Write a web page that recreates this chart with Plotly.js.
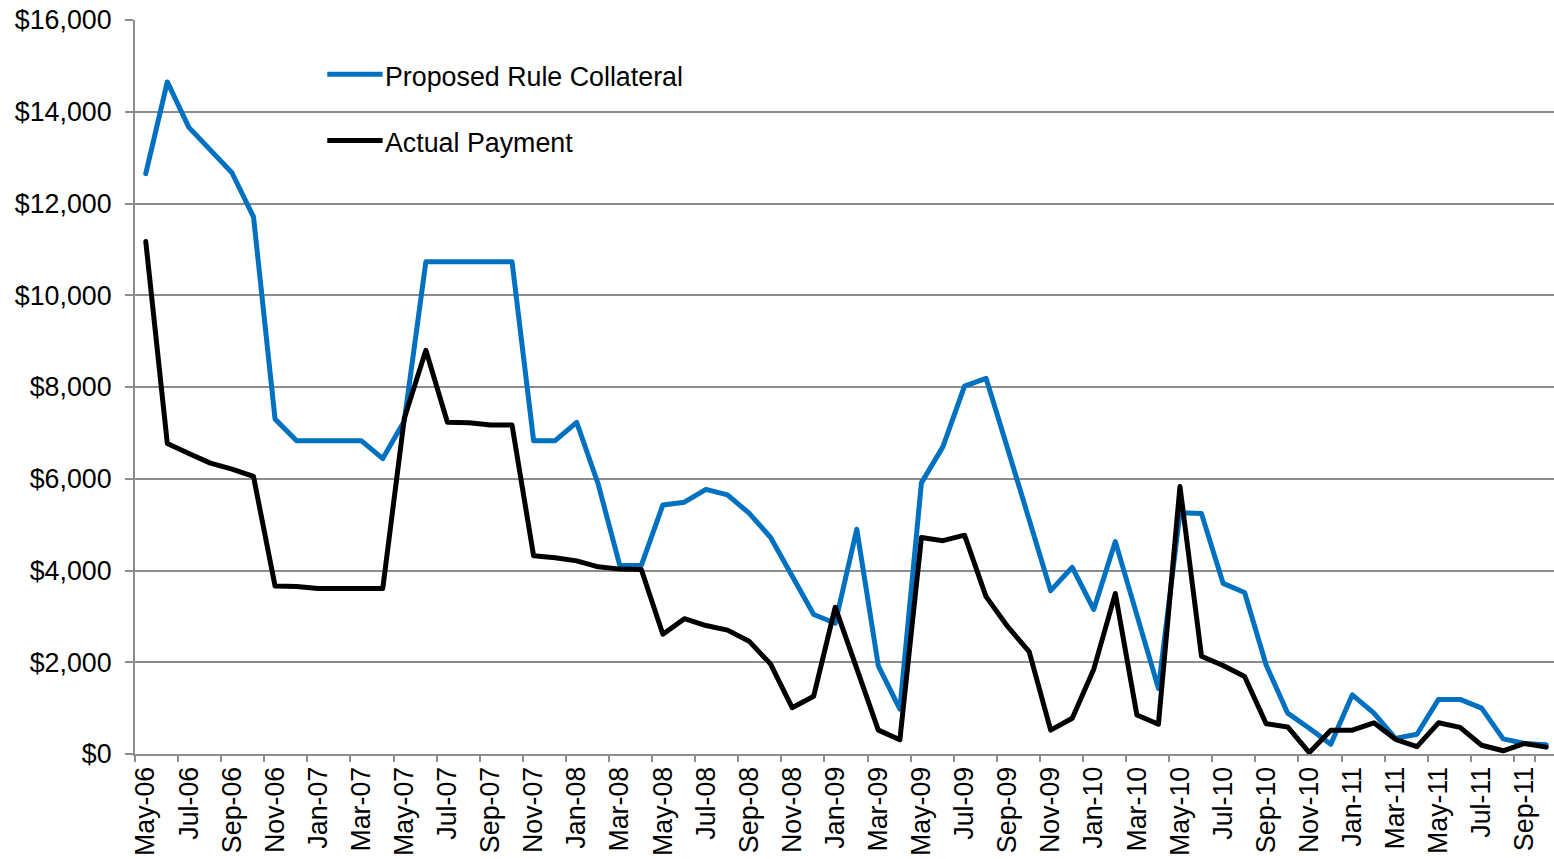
<!DOCTYPE html>
<html>
<head>
<meta charset="utf-8">
<script src="https://cdn.plot.ly/plotly-3.0.1.min.js"></script>
<style>
html,body{margin:0;padding:0;background:#fff;}
.scatterlayer path.js-line{stroke-linejoin:round;stroke-linecap:round;}
</style>
</head>
<body>
<div id="chart" style="width:1554px;height:859px;"></div>
<script>
const months = [
  "May-06","Jun-06","Jul-06","Aug-06","Sep-06","Oct-06","Nov-06","Dec-06",
  "Jan-07","Feb-07","Mar-07","Apr-07","May-07","Jun-07","Jul-07","Aug-07","Sep-07","Oct-07","Nov-07","Dec-07",
  "Jan-08","Feb-08","Mar-08","Apr-08","May-08","Jun-08","Jul-08","Aug-08","Sep-08","Oct-08","Nov-08","Dec-08",
  "Jan-09","Feb-09","Mar-09","Apr-09","May-09","Jun-09","Jul-09","Aug-09","Sep-09","Oct-09","Nov-09","Dec-09",
  "Jan-10","Feb-10","Mar-10","Apr-10","May-10","Jun-10","Jul-10","Aug-10","Sep-10","Oct-10","Nov-10","Dec-10",
  "Jan-11","Feb-11","Mar-11","Apr-11","May-11","Jun-11","Jul-11","Aug-11","Sep-11","Oct-11"
];

const proposedRuleCollateral = [
  12650, 14650, 13660, 13170, 12670, 11710,
  7300, 6830, 6830, 6830, 6830, 6440,
  7260, 10730, 10730, 10730, 10730, 10730,
  6830, 6830, 7230, 5880, 4110, 4110,
  5430, 5490, 5770, 5650, 5250, 4720,
  3880, 3040, 2850, 4900, 1920, 980,
  5910, 6700, 8020, 8190, 6660, 5140,
  3560, 4070, 3150, 4630, 3030, 1430,
  5260, 5240, 3720, 3520, 1940, 890,
  560, 210, 1290, 890, 340, 430,
  1190, 1190, 1000, 330, 230, 200
];

const actualPayment = [
  11170, 6770, 6550, 6340, 6210, 6050,
  3660, 3650, 3610, 3610, 3610, 3610,
  7320, 8800, 7230, 7220, 7170, 7170,
  4320, 4280, 4210, 4080, 4030, 4020,
  2610, 2950, 2800, 2700, 2460, 1960,
  1010, 1260, 3200, 1900, 520, 310,
  4720, 4650, 4770, 3430, 2780, 2230,
  520, 780, 1850, 3500, 850, 650,
  5830, 2130, 1930, 1690, 660, 590,
  30, 520, 520, 680, 320, 160,
  680, 580, 190, 70, 230, 150
];

const seriesNames = ["Proposed Rule Collateral", "Actual Payment"];
const seriesColors = ["#0070C0", "#000000"];
const tickLabels = months.filter((m, i) => i % 2 === 0);

const FONT = "Liberation Sans, Arial, sans-serif";
const GRID = "#8c8c8c";
const FS = 26.8;

const traces = [
  {x: months, y: proposedRuleCollateral, name: seriesNames[0], type: "scatter", mode: "lines",
   line: {color: seriesColors[0], width: 5}},
  {x: months, y: actualPayment, name: seriesNames[1], type: "scatter", mode: "lines",
   line: {color: seriesColors[1], width: 5}}
];

// legend drawn as shapes + annotations (paper coordinates)
const legendY = [0.926, 0.836];
const shapes = seriesNames.map((n, i) => ({
  type: "line", xref: "paper", yref: "paper",
  x0: 0.1355, x1: 0.1745, y0: legendY[i], y1: legendY[i],
  line: {color: seriesColors[i], width: 5}
}));
const annotations = seriesNames.map((n, i) => ({
  text: n, xref: "paper", yref: "paper", x: 0.1745, y: legendY[i] - 0.004,
  xanchor: "left", yanchor: "middle", showarrow: false,
  font: {family: FONT, size: FS, color: "#000"}
}));

const layout = {
  width: 1554, height: 859,
  margin: {l: 135, r: 0, t: 20, b: 105, pad: 0},
  paper_bgcolor: "#fff", plot_bgcolor: "#fff",
  showlegend: false,
  font: {family: FONT, size: FS, color: "#000"},
  xaxis: {
    type: "category", range: [-0.5, 65.36],
    tickmode: "array", tickvals: tickLabels, ticktext: tickLabels,
    tickson: "boundaries",
    ticks: "outside", ticklen: 6, tickwidth: 2, tickcolor: GRID,
    showline: true, linecolor: GRID, linewidth: 2,
    showgrid: false, zeroline: false,
    tickangle: -90, tickfont: {family: FONT, size: FS, color: "#000"}
  },
  yaxis: {
    range: [0, 16000], tickmode: "linear", tick0: 0, dtick: 2000,
    tickprefix: "$", tickformat: ",d",
    showgrid: true, gridcolor: GRID, gridwidth: 2,
    showline: true, linecolor: GRID, linewidth: 2,
    ticks: "outside", ticklen: 8, tickwidth: 2, tickcolor: GRID,
    zeroline: false, ticklabelstandoff: 8,
    tickfont: {family: FONT, size: FS, color: "#000"}
  },
  shapes: shapes,
  annotations: annotations
};

Plotly.newPlot("chart", traces, layout, {displayModeBar: false, staticPlot: true});
</script>
</body>
</html>
